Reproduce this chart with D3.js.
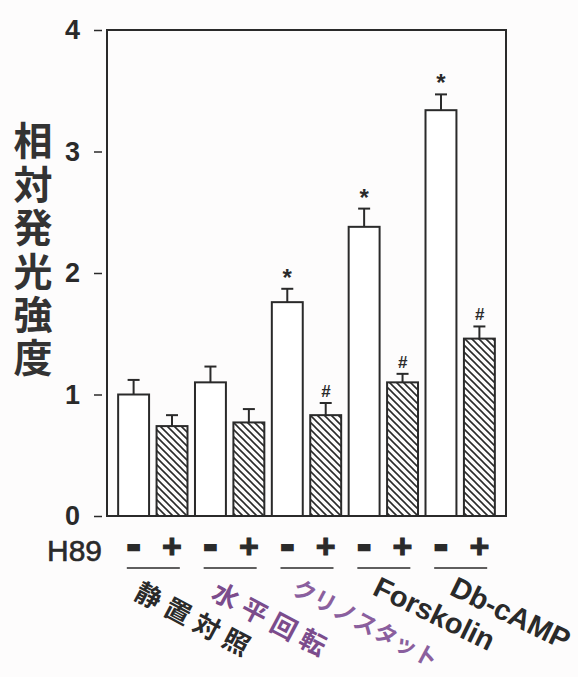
<!DOCTYPE html>
<html>
<head>
<meta charset="utf-8">
<script src="https://cdn.jsdelivr.net/npm/d3@7"></script>
<style>
  body { margin: 0; background: #fdfcfc; }
  svg { display: block; }
</style>
</head>
<body>
<script>
// data
const groups = ["静置対照", "水平回転", "クリノスタット", "Forskolin", "Db-cAMP"];
const h89 = ["-", "+"];
const means = [1.00, 0.74, 1.10, 0.77, 1.76, 0.83, 2.38, 1.10, 3.34, 1.46];
const errors = [0.12, 0.09, 0.13, 0.11, 0.11, 0.10, 0.15, 0.07, 0.13, 0.10];
const marks = ["", "", "", "", "*", "#", "*", "#", "*", "#"];
const yTicks = [0, 1, 2, 3, 4];
const yLabel = "相対発光強度";

const groupColors = ["#2a2a2a", "#7b4c8c", "#8a5f9e", "#2a2a2a", "#2a2a2a"];
const ink = "#2a2a2a";
const W = 578, H = 677;
const plot = { left: 107, right: 506, top: 30, bottom: 516 };

const svg = d3.select("body").append("svg")
  .attr("width", W).attr("height", H);

// hatch pattern for the H89 (+) bars
svg.append("defs").append("pattern")
  .attr("id", "hatch")
  .attr("patternUnits", "userSpaceOnUse")
  .attr("width", 7).attr("height", 7)
  .append("path")
  .attr("d", "M0,0 L7,7 M-3.5,3.5 L3.5,10.5 M3.5,-3.5 L10.5,3.5")
  .attr("stroke", ink).attr("stroke-width", 1.6);

const x = d3.scaleBand()
  .domain(d3.range(means.length))
  .range([plot.left, plot.right])
  .paddingInner(0.195)
  .paddingOuter(0.29);

const y = d3.scaleLinear()
  .domain([0, 4])
  .range([plot.bottom, plot.top]);

// frame
svg.append("rect")
  .attr("x", plot.left).attr("y", plot.top)
  .attr("width", plot.right - plot.left)
  .attr("height", plot.bottom - plot.top)
  .attr("fill", "none").attr("stroke", ink).attr("stroke-width", 2);

// y axis
const yAxis = svg.append("g")
  .attr("transform", `translate(${plot.left},0)`)
  .call(d3.axisLeft(y).tickValues(yTicks).tickSize(13).tickPadding(14).tickFormat(d3.format("d")));
yAxis.select(".domain").remove();
yAxis.selectAll(".tick line").attr("x1", -5).attr("stroke", ink).attr("stroke-width", 1.5);
yAxis.selectAll(".tick text")
  .attr("font-family", "Liberation Sans, Arial, sans-serif")
  .attr("font-weight", "bold")
  .attr("font-size", 27)
  .attr("fill", ink);

// y label, written vertically
svg.append("text")
  .attr("x", 33)
  .attr("y", 121)
  .attr("writing-mode", "vertical-rl")
  .attr("font-family", "Noto Sans CJK JP")
  .attr("font-weight", "bold")
  .attr("font-size", 39)
  .attr("letter-spacing", 4.4)
  .attr("fill", "#333")
  .text(yLabel);

// bars
svg.append("g").selectAll("rect")
  .data(means)
  .join("rect")
  .attr("x", (d, i) => x(i))
  .attr("y", d => y(d))
  .attr("width", x.bandwidth())
  .attr("height", d => y(0) - y(d))
  .attr("fill", (d, i) => i % 2 ? "url(#hatch)" : "#fff")
  .attr("stroke", ink).attr("stroke-width", 2);

// error bars
const err = svg.append("g").attr("stroke", ink).attr("stroke-width", 2);
means.forEach((m, i) => {
  const cx = x(i) + x.bandwidth() / 2;
  err.append("line").attr("x1", cx).attr("x2", cx).attr("y1", y(m)).attr("y2", y(m + errors[i]));
  err.append("line").attr("x1", cx - 6).attr("x2", cx + 6).attr("y1", y(m + errors[i])).attr("y2", y(m + errors[i]));
});

// significance marks
svg.append("g").selectAll("text")
  .data(marks)
  .join("text")
  .attr("x", (d, i) => x(i) + x.bandwidth() / 2)
  .attr("y", (d, i) => y(means[i] + errors[i]) - (d === "*" ? 3 : 6))
  .attr("text-anchor", "middle")
  .attr("font-family", "Liberation Sans, Arial, sans-serif")
  .attr("font-size", d => d === "*" ? 24 : 17)
  .attr("font-style", d => d === "#" ? "italic" : "normal")
  .attr("font-weight", "bold")
  .attr("fill", ink)
  .text(d => d);

// H89 row
svg.append("text")
  .attr("x", 47).attr("y", 561)
  .attr("font-family", "Liberation Sans, Arial, sans-serif")
  .attr("font-size", 30)
  .attr("textLength", 55)
  .attr("lengthAdjust", "spacingAndGlyphs")
  .attr("fill", ink)
  .attr("stroke", ink)
  .attr("stroke-width", 0.6)
  .text("H89");

svg.append("g").selectAll("text")
  .data(means)
  .join("text")
  .attr("x", (d, i) => x(i) + x.bandwidth() / 2)
  .attr("y", 558)
  .attr("text-anchor", "middle")
  .attr("font-family", "Liberation Sans, Arial, sans-serif")
  .attr("font-weight", "bold")
  .attr("font-size", (d, i) => i % 2 ? 34 : 40)
  .attr("fill", ink)
  .attr("stroke", ink)
  .attr("stroke-width", (d, i) => i % 2 ? 1 : 2.5)
  .text((d, i) => h89[i % 2]);

// group underlines and rotated labels
const pairCenter = g => (x(2 * g) + x(2 * g + 1) + x.bandwidth()) / 2;
svg.append("g").selectAll("line")
  .data(groups)
  .join("line")
  .attr("x1", (d, g) => pairCenter(g) - 26)
  .attr("x2", (d, g) => pairCenter(g) + 27)
  .attr("y1", 568).attr("y2", 568)
  .attr("stroke", ink).attr("stroke-width", 1.5);

const latin = g => g >= 3;
const kana = g => g === 2;
svg.append("g").selectAll("text")
  .data(groups)
  .join("text")
  .attr("transform", (d, g) => latin(g)
    ? `translate(${pairCenter(g) - 12},594) rotate(26)`
    : kana(g)
      ? `translate(${pairCenter(g) - 16},593) rotate(28)`
      : `translate(${pairCenter(g) - 20},598) rotate(28)`)
  .attr("font-family", (d, g) => latin(g) ? "Liberation Sans, Arial, sans-serif" : "Noto Sans CJK JP")
  .attr("font-weight", "bold")
  .attr("font-size", (d, g) => latin(g) ? 29 : kana(g) ? 23 : 26)
  .attr("letter-spacing", (d, g) => latin(g) ? 0 : kana(g) ? 0 : 7)
  .attr("fill", (d, g) => groupColors[g])
  .text(d => d);
</script>
</body>
</html>
